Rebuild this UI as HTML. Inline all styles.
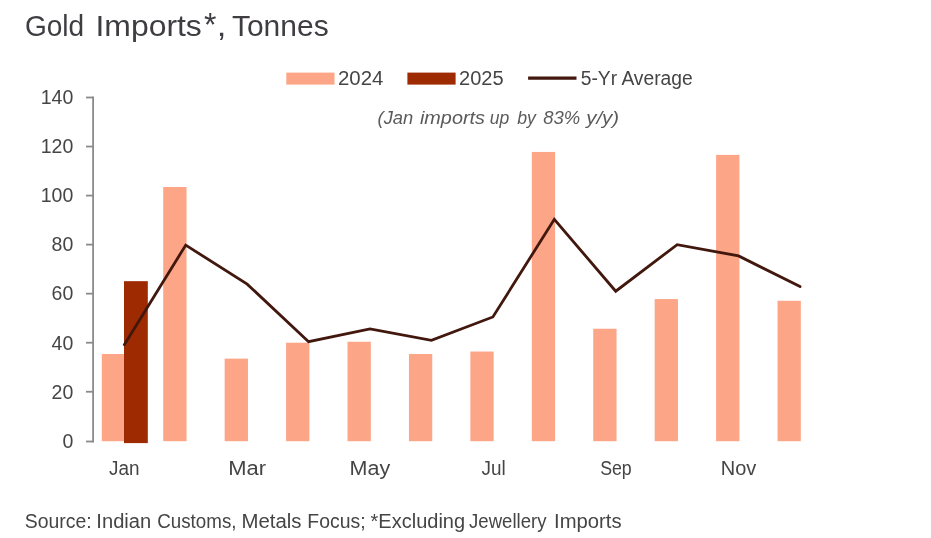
<!DOCTYPE html>
<html lang="en">
<head>
<meta charset="utf-8">
<title>Gold Imports*, Tonnes</title>
<style>
html,body{margin:0;padding:0;background:#fff;}
body{width:931px;height:538px;overflow:hidden;}
svg{display:block;}
text{font-family:"Liberation Sans",sans-serif;}
.t{font-size:29.5px;fill:#3f3d42;}
.l{font-size:19.5px;fill:#454545;}
.i{font-size:18.8px;font-style:italic;fill:#5a5a5a;}
</style>
</head>
<body>
<svg width="931" height="538" viewBox="0 0 931 538">
<rect x="0" y="0" width="931" height="538" fill="#ffffff"/>
<text class="t"><tspan x="24.90" y="35.90" textLength="59.31" lengthAdjust="spacingAndGlyphs">Gold</tspan> <tspan x="95.46" y="35.90" textLength="106.38" lengthAdjust="spacingAndGlyphs">Imports</tspan><tspan style="font-size:34px" x="203.99" y="36.40" textLength="12.43" lengthAdjust="spacingAndGlyphs">*</tspan><tspan x="216.88" y="35.90" textLength="9.64" lengthAdjust="spacingAndGlyphs">,</tspan> <tspan x="231.94" y="35.90" textLength="96.73" lengthAdjust="spacingAndGlyphs">Tonnes</tspan></text>
<rect x="286.3" y="72.6" width="48.2" height="12" fill="#fca587"/>
<text class="l" x="337.98" y="84.60" textLength="45.43" lengthAdjust="spacingAndGlyphs">2024</text>
<rect x="407.4" y="72.6" width="48.2" height="12" fill="#9e2a02"/>
<text class="l" x="459.00" y="84.60" textLength="44.56" lengthAdjust="spacingAndGlyphs">2025</text>
<line x1="528.1" y1="78.2" x2="576.5" y2="78.2" stroke="#42170e" stroke-width="3.2"/>
<text class="l" x="580.73" y="84.60" textLength="112.03" lengthAdjust="spacingAndGlyphs">5-Yr Average</text>
<text class="i"><tspan x="377.54" y="123.50" textLength="35.69" lengthAdjust="spacingAndGlyphs">(Jan</tspan> <tspan x="419.98" y="123.50" textLength="64.94" lengthAdjust="spacingAndGlyphs">imports</tspan> <tspan x="489.86" y="123.50" textLength="19.50" lengthAdjust="spacingAndGlyphs">up</tspan> <tspan x="517.15" y="123.50" textLength="18.67" lengthAdjust="spacingAndGlyphs">by</tspan> <tspan x="543.22" y="123.50" textLength="36.98" lengthAdjust="spacingAndGlyphs">83%</tspan> <tspan x="586.15" y="123.50" textLength="33.08" lengthAdjust="spacingAndGlyphs">y/y)</tspan></text>
<g stroke="#8a8a8a" stroke-width="1.8" fill="none">
<line x1="93.1" y1="96.6" x2="93.1" y2="442.4"/>
<line x1="86" y1="97.50" x2="93" y2="97.50"/>
<line x1="86" y1="146.54" x2="93" y2="146.54"/>
<line x1="86" y1="195.58" x2="93" y2="195.58"/>
<line x1="86" y1="244.62" x2="93" y2="244.62"/>
<line x1="86" y1="293.66" x2="93" y2="293.66"/>
<line x1="86" y1="342.70" x2="93" y2="342.70"/>
<line x1="86" y1="391.74" x2="93" y2="391.74"/>
<line x1="86" y1="441.50" x2="93" y2="441.50"/>
</g>
<text class="l" x="73.3" y="104.30" text-anchor="end">140</text>
<text class="l" x="73.3" y="153.34" text-anchor="end">120</text>
<text class="l" x="73.3" y="202.38" text-anchor="end">100</text>
<text class="l" x="73.3" y="251.42" text-anchor="end">80</text>
<text class="l" x="73.3" y="300.46" text-anchor="end">60</text>
<text class="l" x="73.3" y="349.50" text-anchor="end">40</text>
<text class="l" x="73.3" y="398.54" text-anchor="end">20</text>
<text class="l" x="73.3" y="447.58" text-anchor="end">0</text>
<g fill="#fca587">
<rect x="101.80" y="353.99" width="22.20" height="87.21"/>
<rect x="163.23" y="187.00" width="23.30" height="254.20"/>
<rect x="224.66" y="358.65" width="23.30" height="82.55"/>
<rect x="286.09" y="342.71" width="23.30" height="98.49"/>
<rect x="347.52" y="341.73" width="23.30" height="99.47"/>
<rect x="408.95" y="353.99" width="23.30" height="87.21"/>
<rect x="470.38" y="351.54" width="23.30" height="89.66"/>
<rect x="531.81" y="151.94" width="23.30" height="289.26"/>
<rect x="593.24" y="328.74" width="23.30" height="112.46"/>
<rect x="654.67" y="299.07" width="23.30" height="142.13"/>
<rect x="716.10" y="154.88" width="23.30" height="286.32"/>
<rect x="777.53" y="300.78" width="23.30" height="140.42"/>
</g>
<rect x="124" y="281.17" width="23.8" height="161.93" fill="#9e2a02"/>
<polyline points="124.30,344.68 185.73,245.12 247.16,284.11 308.59,341.73 370.02,328.98 431.45,340.26 492.88,316.97 554.31,219.37 615.74,291.22 677.17,244.63 738.60,255.91 800.03,286.56" fill="none" stroke="#42170e" stroke-width="2.8" stroke-linejoin="miter" stroke-linecap="round"/>
<text class="l" x="109.00" y="474.50" textLength="30.54" lengthAdjust="spacingAndGlyphs">Jan</text>
<text class="l" x="228.20" y="474.50" textLength="37.78" lengthAdjust="spacingAndGlyphs">Mar</text>
<text class="l" x="349.64" y="474.50" textLength="40.61" lengthAdjust="spacingAndGlyphs">May</text>
<text class="l" x="481.50" y="474.50" textLength="24.18" lengthAdjust="spacingAndGlyphs">Jul</text>
<text class="l" x="600.18" y="474.50" textLength="31.57" lengthAdjust="spacingAndGlyphs">Sep</text>
<text class="l" x="720.76" y="474.50" textLength="35.52" lengthAdjust="spacingAndGlyphs">Nov</text>
<text class="l"><tspan x="24.81" y="528.10" textLength="66.86" lengthAdjust="spacingAndGlyphs">Source:</tspan> <tspan x="96.35" y="528.10" textLength="54.87" lengthAdjust="spacingAndGlyphs">Indian</tspan> <tspan x="157.24" y="528.10" textLength="79.25" lengthAdjust="spacingAndGlyphs">Customs,</tspan> <tspan x="241.43" y="528.10" textLength="60.01" lengthAdjust="spacingAndGlyphs">Metals</tspan> <tspan x="307.31" y="528.10" textLength="58.24" lengthAdjust="spacingAndGlyphs">Focus;</tspan> <tspan x="370.58" y="528.10" textLength="94.50" lengthAdjust="spacingAndGlyphs">*Excluding</tspan> <tspan x="469.10" y="528.10" textLength="77.33" lengthAdjust="spacingAndGlyphs">Jewellery</tspan> <tspan x="554.04" y="528.10" textLength="67.49" lengthAdjust="spacingAndGlyphs">Imports</tspan></text>
</svg>
</body>
</html>
